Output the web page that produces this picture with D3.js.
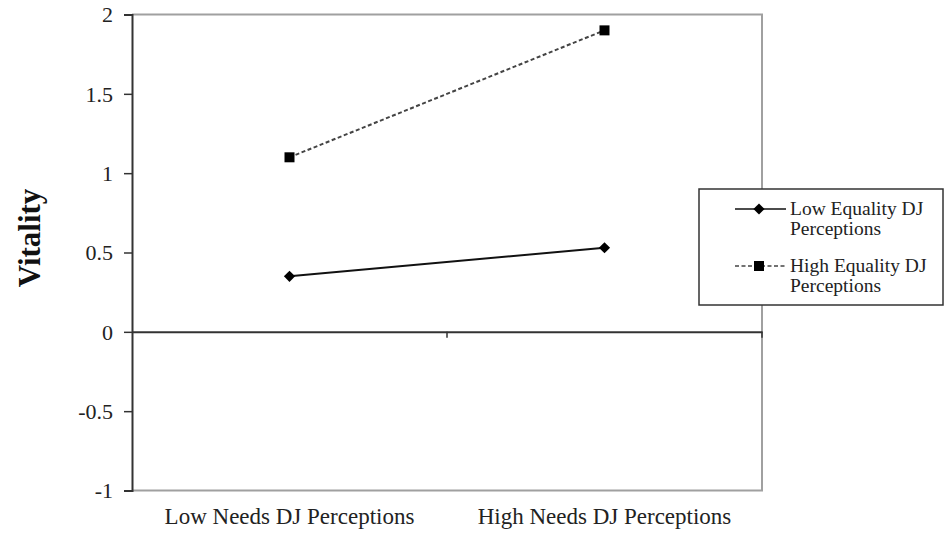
<!DOCTYPE html>
<html><head><meta charset="utf-8">
<script src="https://cdn.jsdelivr.net/npm/d3@7"></script>
<style>body{margin:0;background:#fff}svg{display:block}</style>
</head><body><svg id="c" width="946" height="534"></svg>
<script>
const categories = ["Low Needs DJ Perceptions", "High Needs DJ Perceptions"];
const lowEquality = [0.35, 0.53];
const highEquality = [1.10, 1.90];
const legendLines = [["Low Equality DJ", "Perceptions"], ["High Equality DJ", "Perceptions"]];
const yTicks = [-1, -0.5, 0, 0.5, 1, 1.5, 2];
const yTitle = "Vitality";

const FONT = '"Liberation Serif", "Times New Roman", serif';
const svg = d3.select("#c");
const L = 132, R = 762, T = 14.5, B = 490.5;
const x = d3.scaleBand().domain(categories).range([L, R]);
const y = d3.scaleLinear().domain([-1, 2]).range([B, T]);

// plot border (gray)
svg.append("path").attr("d", `M${L},${T}H${R}V${B}H${L}`).attr("fill","none").attr("stroke","#a0a0a0").attr("stroke-width",2);

// y axis
const ya = svg.append("g").attr("transform",`translate(${L},0)`)
  .call(d3.axisLeft(y).tickValues(yTicks).tickSize(8).tickPadding(11).tickFormat(d=>String(d)));
ya.select(".domain").attr("stroke","#333").attr("stroke-width",2);
ya.selectAll(".tick line").attr("stroke","#333").attr("stroke-width",1.5);
ya.selectAll(".tick text").style("font-family",FONT).style("font-size","22px").attr("fill","#222").attr("dy","0.34em");

// x axis at y=0
const xa = svg.append("g").attr("transform",`translate(0,${y(0)})`)
  .call(d3.axisBottom(x).tickSize(0).tickFormat(""));
xa.select(".domain").attr("stroke","#333").attr("stroke-width",2);
xa.selectAll(".tick").remove();
const bounds = [x(categories[1]), R];
xa.selectAll(".bt").data(bounds).enter().append("line")
  .attr("x1",d=>d).attr("x2",d=>d).attr("y1",0).attr("y2",6).attr("stroke","#333").attr("stroke-width",1.5);

// category labels at bottom
svg.selectAll(".cl").data(categories).enter().append("text")
  .attr("x",d=>x(d)+x.bandwidth()/2).attr("y",524).attr("text-anchor","middle")
  .style("font-family",FONT).style("font-size","23px").attr("fill","#222").text(d=>d);

// y title
svg.append("text").attr("transform",`translate(40,238) rotate(-90)`)
  .attr("text-anchor","middle").style("font-family",FONT).style("font-size","31px").style("font-weight","bold").attr("fill","#111").text(yTitle);

const cx = d => x(d)+x.bandwidth()/2;
const line = d3.line().x((d,i)=>cx(categories[i])).y(d=>y(d));

// series
svg.append("path").datum(lowEquality).attr("d",line).attr("fill","none").attr("stroke","#111").attr("stroke-width",2);
svg.append("path").datum(highEquality).attr("d",line).attr("fill","none").attr("stroke","#444").attr("stroke-width",2).attr("stroke-dasharray","4,2.5");

const diamond = d3.symbol().type(d3.symbolDiamond2).size(80);
const square = d3.symbol().type(d3.symbolSquare).size(100);
svg.selectAll(".m1").data(lowEquality).enter().append("path")
  .attr("d",diamond).attr("transform",(d,i)=>`translate(${cx(categories[i])},${y(d)})`).attr("fill","#000");
svg.selectAll(".m2").data(highEquality).enter().append("path")
  .attr("d",square).attr("transform",(d,i)=>`translate(${cx(categories[i])},${y(d)})`).attr("fill","#000");

// legend
const lg = svg.append("g");
lg.append("rect").attr("x",699).attr("y",189).attr("width",244).attr("height",116).attr("fill","#fff").attr("stroke","#333").attr("stroke-width",1.5);
const rows = [
  {y:209, base:215, dash:null, sym:diamond, col:"#111"},
  {y:266, base:272, dash:"4,2.5", sym:square, col:"#444"}
];
rows.forEach((r,i)=>{
  lg.append("line").attr("x1",735).attr("x2",786).attr("y1",r.y).attr("y2",r.y).attr("stroke",r.col).attr("stroke-width",1.5).attr("stroke-dasharray",r.dash);
  lg.append("path").attr("d",r.sym).attr("transform",`translate(759,${r.y})`).attr("fill","#000");
  legendLines[i].forEach((s,j)=>{
    lg.append("text").attr("x",790).attr("y",r.base + j*20)
      .style("font-family",FONT).style("font-size","19.5px").attr("fill","#222").text(s);
  });
});
</script></body></html>
